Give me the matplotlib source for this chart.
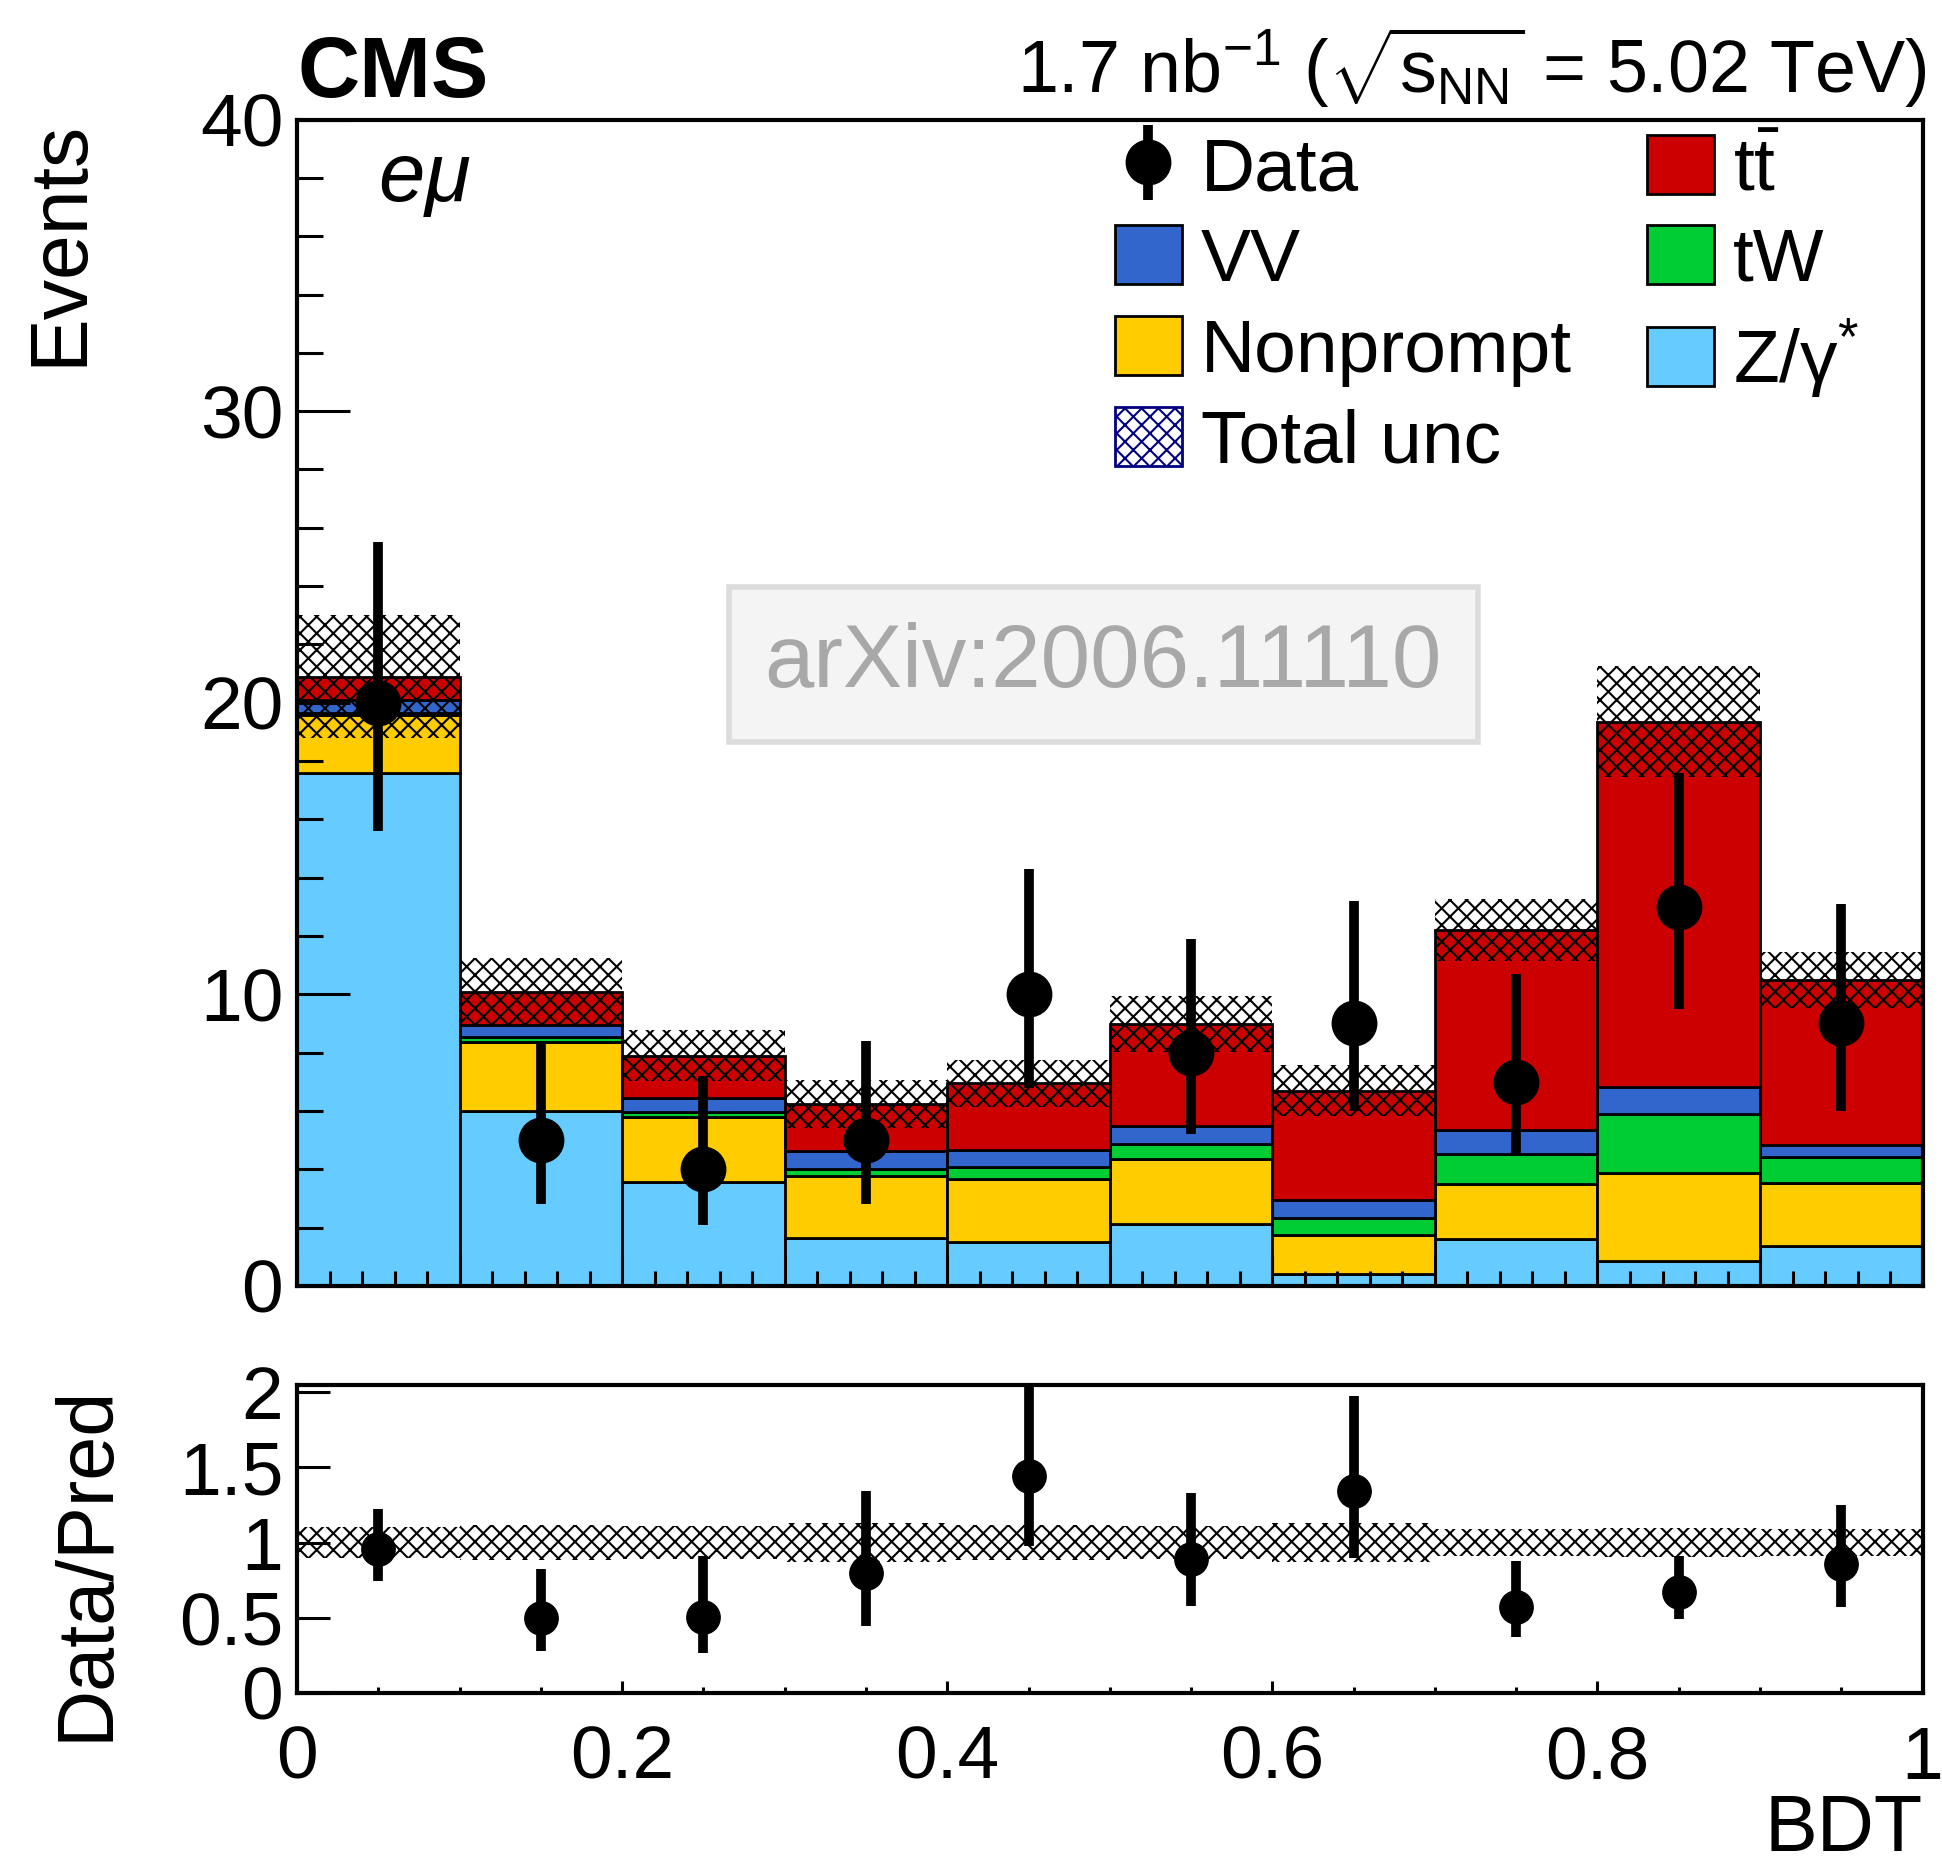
import numpy as np
import matplotlib
matplotlib.use('Agg')
from matplotlib import pyplot as plt
from matplotlib.patches import Patch
from matplotlib.ticker import MultipleLocator, FuncFormatter

plt.rcParams['font.family'] = ['Liberation Sans', 'DejaVu Sans']
plt.rcParams['mathtext.fontset'] = 'custom'
plt.rcParams['mathtext.rm'] = 'Liberation Sans'
plt.rcParams['mathtext.it'] = 'Liberation Sans:italic'
plt.rcParams['mathtext.bf'] = 'Liberation Sans:bold'
plt.rcParams['hatch.linewidth'] = 1.5

# BDT bins (0..1 in steps of 0.1)
edges = np.round(np.arange(0, 1.01, 0.1), 2)

# predicted yields per process, read from the stack (bottom to top)
zgamma    = [17.6, 6.0, 3.57, 1.65, 1.5, 2.11, 0.40, 1.62, 0.86, 1.36]
nonprompt = [1.97, 2.38, 2.21, 2.13, 2.17, 2.23, 1.34, 1.87, 3.01, 2.18]
tw        = [0.08, 0.16, 0.20, 0.23, 0.39, 0.52, 0.58, 1.05, 2.03, 0.89]
vv        = [0.44, 0.42, 0.48, 0.60, 0.60, 0.63, 0.61, 0.79, 0.91, 0.40]
ttbar     = [0.81, 1.12, 1.44, 1.64, 2.29, 3.48, 3.76, 6.87, 12.54, 5.66]
total_unc = [2.1, 1.18, 0.87, 0.82, 0.80, 0.96, 0.87, 1.07, 1.9, 0.97]

# observed data with asymmetric (Poisson) errors
data    = [20, 5, 4, 5, 10, 8, 9, 7, 13, 9]
data_lo = [4.4, 2.2, 1.9, 2.2, 3.2, 2.8, 3.0, 2.5, 3.5, 3.0]
data_hi = [5.5, 3.3, 3.2, 3.4, 4.3, 3.9, 4.2, 3.7, 4.6, 4.1]

procs = [
    ('Z/γ$^{*}$', zgamma, '#66ccff'),
    ('Nonprompt', nonprompt, '#ffcc00'),
    ('tW', tw, '#00cc33'),
    ('VV', vv, '#3366cc'),
    ('t$\\bar{\\mathrm{t}}$', ttbar, '#cc0000'),
]

width = 0.1
left = edges[:-1]
centers = left + width / 2
data = np.array(data, float)
unc = np.array(total_unc)

fig = plt.figure(figsize=(19.42, 18.69), dpi=100)
ax = fig.add_axes([0.153, 0.312, 0.837, 0.624])
rax = fig.add_axes([0.153, 0.0942, 0.837, 0.165])

# stacked prediction
bottom = np.zeros(len(left))
handles = {}
for name, vals, col in procs:
    vals = np.array(vals)
    ax.bar(left, vals, width=width, bottom=bottom, align='edge', color=col,
           edgecolor='black', linewidth=2)
    handles[name] = Patch(facecolor=col, edgecolor='black', linewidth=2)
    bottom = bottom + vals
total = bottom

ax.bar(left, 2 * unc, width=width, bottom=total - unc, align='edge',
       facecolor='none', edgecolor='black', hatch='xx', linewidth=0)
unc_handle = Patch(facecolor='white', edgecolor='#000080', hatch='xx', linewidth=2)

eb = ax.errorbar(centers, data, yerr=[data_lo, data_hi], fmt='o', color='black',
                 ms=32, elinewidth=7, capsize=0, zorder=5)

ax.set_xlim(0, 1)
ax.set_ylim(0, 40)
ax.xaxis.set_major_locator(MultipleLocator(0.1))
ax.xaxis.set_minor_locator(MultipleLocator(0.02))
ax.yaxis.set_major_locator(MultipleLocator(10))
ax.yaxis.set_minor_locator(MultipleLocator(2))
ax.tick_params(which='both', direction='in', top=False, right=False,
               labelbottom=False, labelsize=54, width=2.2, pad=10)
ax.tick_params(axis='y', which='major', length=38)
ax.tick_params(axis='y', which='minor', length=19)
ax.tick_params(axis='x', which='major', length=22)
ax.tick_params(axis='x', which='minor', length=11)
for s in ax.spines.values():
    s.set_linewidth(3)
ax.set_ylabel('Events', fontsize=58, loc='top')
ax.yaxis.set_label_coords(-0.122, 1.0)

ax.text(0.05, 0.93, '$e\\mu$', transform=ax.transAxes, fontsize=60,
        va='baseline', ha='left')
ax.text(0.496, 0.533, 'arXiv:2006.11110', transform=ax.transAxes, fontsize=64,
        color='#a8a8a8', ha='center', va='center',
        bbox=dict(boxstyle='square,pad=0.4', facecolor='#f4f4f4',
                  edgecolor='#dcdcdc', linewidth=4))

order = ['Data', 'VV', 'Nonprompt', 'Total unc',
         't$\\bar{\\mathrm{t}}$', 'tW', 'Z/γ$^{*}$']
hmap = dict(handles)
hmap['Data'] = eb
hmap['Total unc'] = unc_handle
ax.legend([hmap[k] for k in order], order, ncol=2, frameon=False, fontsize=54,
          loc='upper left', bbox_to_anchor=(0.503, 0.987), borderpad=0,
          borderaxespad=0, handlelength=0.9, handleheight=0.83,
          handletextpad=0.25, columnspacing=1.0, labelspacing=0.27)

# ratio panel
ratio = data / total
rax.bar(left, 2 * unc / total, width=width, bottom=1 - unc / total, align='edge',
        facecolor='none', edgecolor='black', hatch='xx', linewidth=0)
rax.errorbar(centers, ratio,
             yerr=[np.array(data_lo) / total, np.array(data_hi) / total],
             fmt='o', color='black', ms=24, elinewidth=7, capsize=0, zorder=5)
rax.set_xlim(0, 1)
rax.set_ylim(0, 2.05)
rax.xaxis.set_major_locator(MultipleLocator(0.2))
rax.xaxis.set_minor_locator(MultipleLocator(0.05))
rax.xaxis.set_major_formatter(FuncFormatter(lambda v, p: '%g' % round(v, 2)))
rax.yaxis.set_major_locator(MultipleLocator(0.5))
rax.yaxis.set_major_formatter(FuncFormatter(lambda v, p: '%g' % v))
rax.tick_params(which='both', direction='in', top=False, right=False,
                labelsize=54, width=2.2)
rax.tick_params(axis='y', which='major', length=24, pad=10)
rax.tick_params(axis='x', which='major', length=9, pad=23)
rax.tick_params(axis='x', which='minor', length=4)
for s in rax.spines.values():
    s.set_linewidth(3)
rax.set_ylabel('Data/Pred', fontsize=57, loc='top')
rax.yaxis.set_label_coords(-0.106, 1.0)
rax.set_xlabel('BDT', fontsize=57, loc='right')
rax.xaxis.set_label_coords(1.0, -0.325)

fig.text(0.153, 0.948, 'CMS', fontsize=62, fontweight='bold', va='baseline')
fig.text(0.992, 0.950, '1.7 nb$^{-1}$ ($\\sqrt{\\mathrm{s}_{\\mathrm{NN}}}$ = 5.02 TeV)',
         fontsize=53, ha='right', va='baseline')

fig.savefig('out.png', dpi=100)
